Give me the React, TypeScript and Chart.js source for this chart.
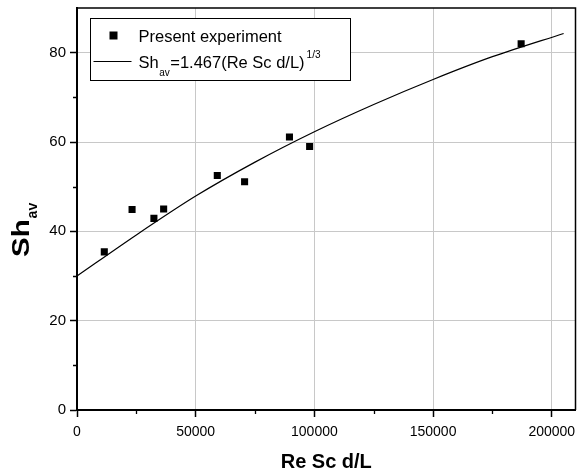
import React, { useEffect, useRef } from 'react';
import { Chart, registerables } from 'chart.js';

Chart.register(...registerables);

const expX = [11500, 23200, 32400, 36500, 59100, 70600, 89500, 98000, 187100];
const expY = [35.4, 44.9, 42.9, 45.0, 52.5, 51.1, 61.1, 59.0, 82.0];
const fitX = [0, 25000, 50000, 75000, 100000, 125000, 150000, 175000, 205000];
const fitY = [30, 39.2, 47.9, 55.5, 62.3, 68.4, 74.0, 79.1, 84.3];
const xTicks = [0, 50000, 100000, 150000, 200000];
const yTicks = [0, 20, 40, 60, 80];
const xMinor = [25000, 75000, 125000, 175000];
const yMinor = [10, 30, 50, 70];
const legendExp = 'Present experiment';
const legendFit = ['Sh', 'av', '=1.467(Re Sc d/L)', '1/3'];
const xTitle = 'Re Sc d/L';
const yTitle = ['Sh', 'av'];

const FONT = '"Liberation Sans", Arial, Helvetica, sans-serif';

const decor = {
  id: 'decor',
  afterDraw(chart: any) {
    const { ctx, chartArea: a, scales } = chart;
    const x = scales.x;
    const y = scales.y;
    ctx.save();
    ctx.strokeStyle = '#000';
    // frame top/right
    ctx.lineWidth = 1.5;
    ctx.beginPath();
    ctx.moveTo(a.left, a.top);
    ctx.lineTo(a.right, a.top);
    ctx.lineTo(a.right, a.bottom);
    ctx.stroke();
    // minor ticks
    ctx.lineWidth = 1.3;
    ctx.beginPath();
    for (const v of xMinor) {
      const px = Math.round(x.getPixelForValue(v)) + 0.5;
      ctx.moveTo(px, a.bottom);
      ctx.lineTo(px, a.bottom + 4);
    }
    for (const v of yMinor) {
      const py = Math.round(y.getPixelForValue(v)) + 0.5;
      ctx.moveTo(a.left, py);
      ctx.lineTo(a.left - 4, py);
    }
    ctx.stroke();

    // legend box
    const bx = a.left + 13.5;
    const by = a.top + 10.5;
    const bw = 260;
    const bh = 62;
    ctx.fillStyle = '#fff';
    ctx.fillRect(bx, by, bw, bh);
    ctx.lineWidth = 1;
    ctx.strokeRect(bx, by, bw, bh);
    ctx.fillStyle = '#000';
    // row 1 marker
    ctx.fillRect(bx + 19, by + 13, 8, 8);
    ctx.font = `16.5px ${FONT}`;
    ctx.textBaseline = 'alphabetic';
    ctx.textAlign = 'left';
    const tx = bx + 48;
    ctx.fillText(legendExp, tx, by + 23);
    // row 2 line
    ctx.lineWidth = 1.2;
    ctx.beginPath();
    ctx.moveTo(bx + 3, by + 43);
    ctx.lineTo(bx + 41, by + 43);
    ctx.stroke();
    let cx = tx;
    const base2 = by + 49;
    ctx.font = `16.5px ${FONT}`;
    ctx.fillText(legendFit[0], cx, base2);
    cx += ctx.measureText(legendFit[0]).width + 0.5;
    ctx.font = `10px ${FONT}`;
    ctx.fillText(legendFit[1], cx, base2 + 8);
    cx += ctx.measureText(legendFit[1]).width + 0.5;
    ctx.font = `16.5px ${FONT}`;
    ctx.fillText(legendFit[2], cx, base2);
    cx += ctx.measureText(legendFit[2]).width + 2;
    ctx.font = `10px ${FONT}`;
    ctx.fillText(legendFit[3], cx, base2 - 10);

    // x title
    ctx.font = `bold 20px ${FONT}`;
    ctx.textAlign = 'center';
    ctx.fillText(xTitle, (a.left + a.right) / 2, 468);

    // y title (rotated)
    ctx.save();
    ctx.translate(28.5, 257);
    ctx.rotate(-Math.PI / 2);
    ctx.textAlign = 'left';
    ctx.save();
    ctx.scale(1.28, 1);
    ctx.font = `bold 23px ${FONT}`;
    ctx.fillText(yTitle[0], 0, 0);
    const w = ctx.measureText(yTitle[0]).width * 1.28;
    ctx.restore();
    ctx.font = `bold 14px ${FONT}`;
    ctx.fillText(yTitle[1], w + 1, 8.5);
    ctx.restore();

    ctx.restore();
  },
};

export default function App() {
  const ref = useRef<HTMLCanvasElement | null>(null);
  useEffect(() => {
    if (!ref.current) return;
    const tickFont = { family: FONT, size: 14 };
    const chart = new Chart(ref.current, {
      type: 'scatter',
      data: {
        datasets: [
          {
            label: legendExp,
            data: expX.map((v, i) => ({ x: v, y: expY[i] })),
            pointStyle: 'rect',
            pointRadius: 5,
            borderWidth: 0,
            backgroundColor: '#000',
            borderColor: '#000',
            showLine: false,
          },
          {
            label: 'fit',
            data: fitX.map((v, i) => ({ x: v, y: fitY[i] })),
            showLine: true,
            pointRadius: 0,
            borderColor: '#000',
            borderWidth: 1.2,
            tension: 0.3,
            fill: false,
          } as any,
        ],
      },
      options: {
        animation: false,
        responsive: false,
        devicePixelRatio: 1,
        layout: { autoPadding: false, padding: { top: 8, right: 1.5, left: 0, bottom: 0 } },
        plugins: { legend: { display: false }, tooltip: { enabled: false } },
        scales: {
          x: {
            type: 'linear',
            min: 0,
            max: 210000,
            afterBuildTicks: (s: any) => {
              s.ticks = xTicks.map((v) => ({ value: v }));
            },
            afterFit: (s: any) => {
              s.height = 62;
              s.paddingLeft = 0;
              s.paddingRight = 0;
              s.paddingTop = 0;
              s.paddingBottom = 0;
            },
            ticks: {
              font: tickFont,
              color: '#000',
              padding: 7,
              maxRotation: 0,
              autoSkip: false,
              callback: (v: any) => String(v),
            },
            grid: { color: '#c8c8c8', lineWidth: 1, tickColor: '#000', tickLength: 7, tickWidth: 1.5 },
            border: { color: '#000', width: 2 },
          },
          y: {
            type: 'linear',
            min: 0,
            max: 90,
            afterBuildTicks: (s: any) => {
              s.ticks = yTicks.map((v) => ({ value: v }));
            },
            afterFit: (s: any) => {
              s.width = 77;
              s.paddingLeft = 0;
              s.paddingRight = 0;
              s.paddingTop = 0;
              s.paddingBottom = 0;
            },
            ticks: {
              font: { family: FONT, size: 15 },
              color: '#000',
              padding: 4,
              autoSkip: false,
              callback: (v: any) => String(v),
            },
            grid: { color: '#c8c8c8', lineWidth: 1, tickColor: '#000', tickLength: 7, tickWidth: 1.5 },
            border: { color: '#000', width: 2 },
          },
        },
      },
      plugins: [decor],
    });
    return () => chart.destroy();
  }, []);
  return (
    <div style={{ position: 'absolute', left: 0, top: 0, width: 577, height: 472, background: '#fff' }}>
      <canvas ref={ref} width={577} height={472} />
    </div>
  );
}
